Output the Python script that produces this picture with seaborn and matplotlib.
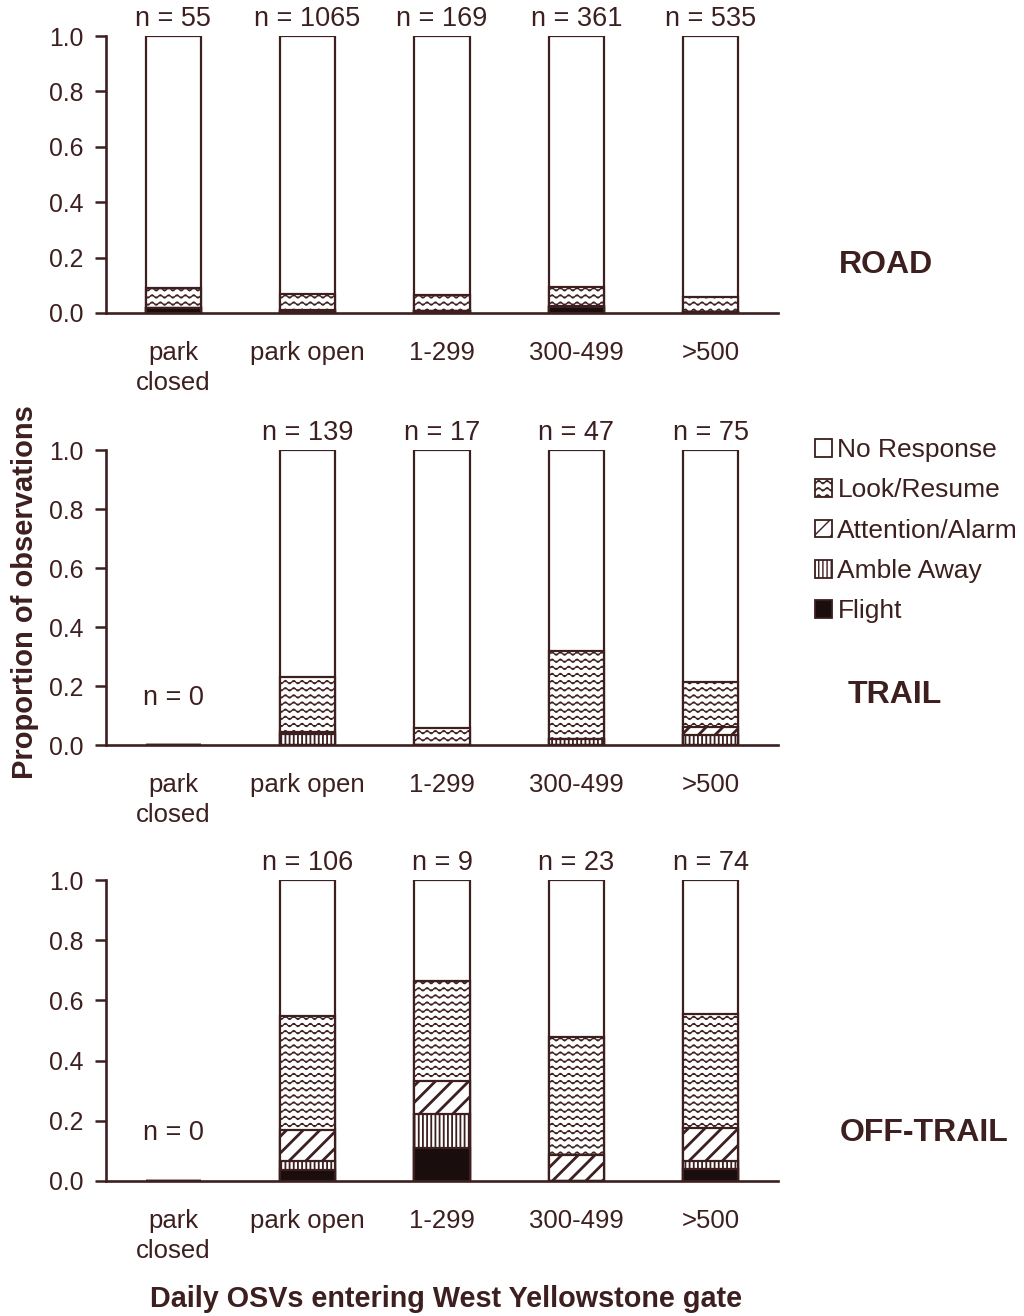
import warnings
warnings.filterwarnings("ignore")
import numpy as np
import matplotlib
matplotlib.use("Agg")
import matplotlib.pyplot as plt
import matplotlib.hatch as mhatch
from matplotlib.path import Path
from matplotlib.patches import Patch
import seaborn as sns

# ---------------- data ----------------
categories = ["park\nclosed", "park open", "1-299", "300-499", ">500"]
responses = ["No Response", "Look/Resume", "Attention/Alarm", "Amble Away", "Flight"]

road_n = [55, 1065, 169, 361, 535]
trail_n = [0, 139, 17, 47, 75]
off_n = [0, 106, 9, 23, 74]

# proportions (bottom to top: Flight, Amble, Attention, Look, No Response)
road_flight = [0.018, 0.006, 0.006, 0.022, 0.004]
road_amble = [0.0, 0.002, 0.0, 0.0, 0.0]
road_attention = [0.0, 0.002, 0.0, 0.003, 0.0]
road_look = [0.073, 0.058, 0.059, 0.069, 0.054]
road_none = [0.909, 0.932, 0.935, 0.906, 0.942]

trail_flight = [0.0, 0.0, 0.0, 0.0, 0.0]
trail_amble = [0.0, 0.036, 0.0, 0.021, 0.035]
trail_attention = [0.0, 0.007, 0.0, 0.0, 0.027]
trail_look = [0.0, 0.187, 0.059, 0.298, 0.151]
trail_none = [0.0, 0.770, 0.941, 0.681, 0.787]

off_flight = [0.0, 0.038, 0.111, 0.0, 0.041]
off_amble = [0.0, 0.028, 0.111, 0.0, 0.027]
off_attention = [0.0, 0.104, 0.111, 0.087, 0.108]
off_look = [0.0, 0.377, 0.333, 0.391, 0.378]
off_none = [0.0, 0.453, 0.334, 0.522, 0.446]

yticks = [0.0, 0.2, 0.4, 0.6, 0.8, 1.0]
ytick_labels = ["0.0", "0.2", "0.4", "0.6", "0.8", "1.0"]
panel_names = ["ROAD", "TRAIL", "OFF-TRAIL"]


# ---------------- custom wavy hatch ----------------
class WavyHatch(mhatch.HatchPatternBase):
    def __init__(self, hatch, density):
        self.num_rows = int(hatch.count("w") * 7)
        self.npts = 89
        self.num_vertices = self.num_rows * self.npts

    def set_vertices_and_codes(self, vertices, codes):
        t = np.linspace(0.0, 1.0, self.npts)
        for i in range(self.num_rows):
            y0 = (i + 0.5) / self.num_rows
            s = slice(i * self.npts, (i + 1) * self.npts)
            vertices[s, 0] = t
            vertices[s, 1] = y0 + 0.016 * np.sin(2 * np.pi * 12 * t)
            codes[i * self.npts] = Path.MOVETO
            codes[i * self.npts + 1:(i + 1) * self.npts] = Path.LINETO


mhatch._hatch_types.append(WavyHatch)

# ---------------- style ----------------
sns.set_theme(style="white")
DARK = "#3d1f1f"
plt.rcParams["font.family"] = ["Liberation Sans", "DejaVu Sans"]
plt.rcParams["text.color"] = DARK
plt.rcParams["axes.edgecolor"] = DARK
plt.rcParams["xtick.color"] = DARK
plt.rcParams["ytick.color"] = DARK
plt.rcParams["hatch.color"] = DARK

styles = {
    "No Response": dict(face="white", hatch=None, hlw=1.0),
    "Look/Resume": dict(face="white", hatch="ww", hlw=0.9),
    "Attention/Alarm": dict(face="white", hatch="//", hlw=2.0),
    "Amble Away": dict(face="white", hatch="||||", hlw=1.3),
    "Flight": dict(face="#1a0d0d", hatch=None, hlw=1.0),
}

fig = plt.figure(figsize=(10.24, 13.16), dpi=100)
W = 1316.0
ax_specs = [
    (313, 277),
    (745, 295),
    (1181, 301),
]
panels = [
    (road_n, [road_none, road_look, road_attention, road_amble, road_flight]),
    (trail_n, [trail_none, trail_look, trail_attention, trail_amble, trail_flight]),
    (off_n, [off_none, off_look, off_attention, off_amble, off_flight]),
]
label_pos = [(886, 265), (895, 695), (924, 1133)]

for k, ((bottom_px, height_px), (ns, layers)) in enumerate(zip(ax_specs, panels)):
    ax = fig.add_axes([106 / 1024, 1 - bottom_px / W, 672 / 1024, height_px / W])
    arr = np.array(layers)  # rows top->bottom
    stack = arr[::-1]  # bottom->top
    cum = np.cumsum(stack, axis=0)[::-1]  # cumulative top layer first
    for name, heights in zip(responses, cum):
        st = styles[name]
        before = len(ax.patches)
        sns.barplot(x=categories, y=list(heights), order=categories, color=st["face"],
                    saturation=1, width=0.41, errorbar=None, ax=ax,
                    edgecolor=DARK, linewidth=1.6)
        for p in ax.patches[before:]:
            p.set_facecolor(st["face"])
            p.set_edgecolor(DARK)
            if st["hatch"]:
                p.set_hatch(st["hatch"])
                if hasattr(p, "set_hatch_linewidth"):
                    p.set_hatch_linewidth(st["hlw"])
    ax.set_xlim(-0.5, 4.5)
    ax.set_ylim(0, 1.0)
    ax.set_yticks(yticks)
    ax.set_yticklabels(ytick_labels)
    ax.set_xlabel("")
    ax.set_ylabel("")
    sns.despine(ax=ax, top=True, right=True)
    for sp in ["left", "bottom"]:
        ax.spines[sp].set_linewidth(1.9)
        ax.spines[sp].set_color(DARK)
    ax.tick_params(axis="y", direction="out", length=8, width=1.8, pad=8,
                   labelsize=17.8, left=True, colors=DARK)
    ax.tick_params(axis="x", length=0, pad=20, labelsize=18.5, colors=DARK)
    for lab in ax.get_xticklabels():
        lab.set_linespacing(1.32)
        lab.set_verticalalignment("top")
    for i, n in enumerate(ns):
        if n == 0:
            ax.text(i, 0.16, f"n = {n}", ha="center", va="center", fontsize=19.5, color=DARK)
        else:
            ax.annotate(f"n = {n}", (i, 1.0), xytext=(0, 3), textcoords="offset points",
                        ha="center", va="bottom", fontsize=19.5, color=DARK,
                        annotation_clip=False)
    lx, ly = label_pos[k]
    fig.text(lx / 1024, 1 - ly / W, panel_names[k], ha="center", va="center",
             fontsize=23, fontweight="bold", color=DARK)

fig.text(25 / 1024, 1 - 592 / W, "Proportion of observations", rotation=90,
         ha="center", va="center", fontsize=21, fontweight="bold", color=DARK)
fig.text(446 / 1024, 1 - 1299 / W, "Daily OSVs entering West Yellowstone gate",
         ha="center", va="center", fontsize=20.7, fontweight="bold", color=DARK)

handles = []
for name in responses:
    st = styles[name]
    h = Patch(facecolor=st["face"], edgecolor=DARK, linewidth=1.3,
              hatch=(st["hatch"] if st["hatch"] else None))
    handles.append(h)
leg = fig.legend(handles, responses, loc="upper left",
                 bbox_to_anchor=(815 / 1024, 1 - 438 / W), frameon=False,
                 fontsize=19, handlelength=0.65, handleheight=0.65,
                 handletextpad=0.2, labelspacing=0.62, borderaxespad=0,
                 borderpad=0)
for t in leg.get_texts():
    t.set_color(DARK)

fig.savefig("out.png", dpi=100)
